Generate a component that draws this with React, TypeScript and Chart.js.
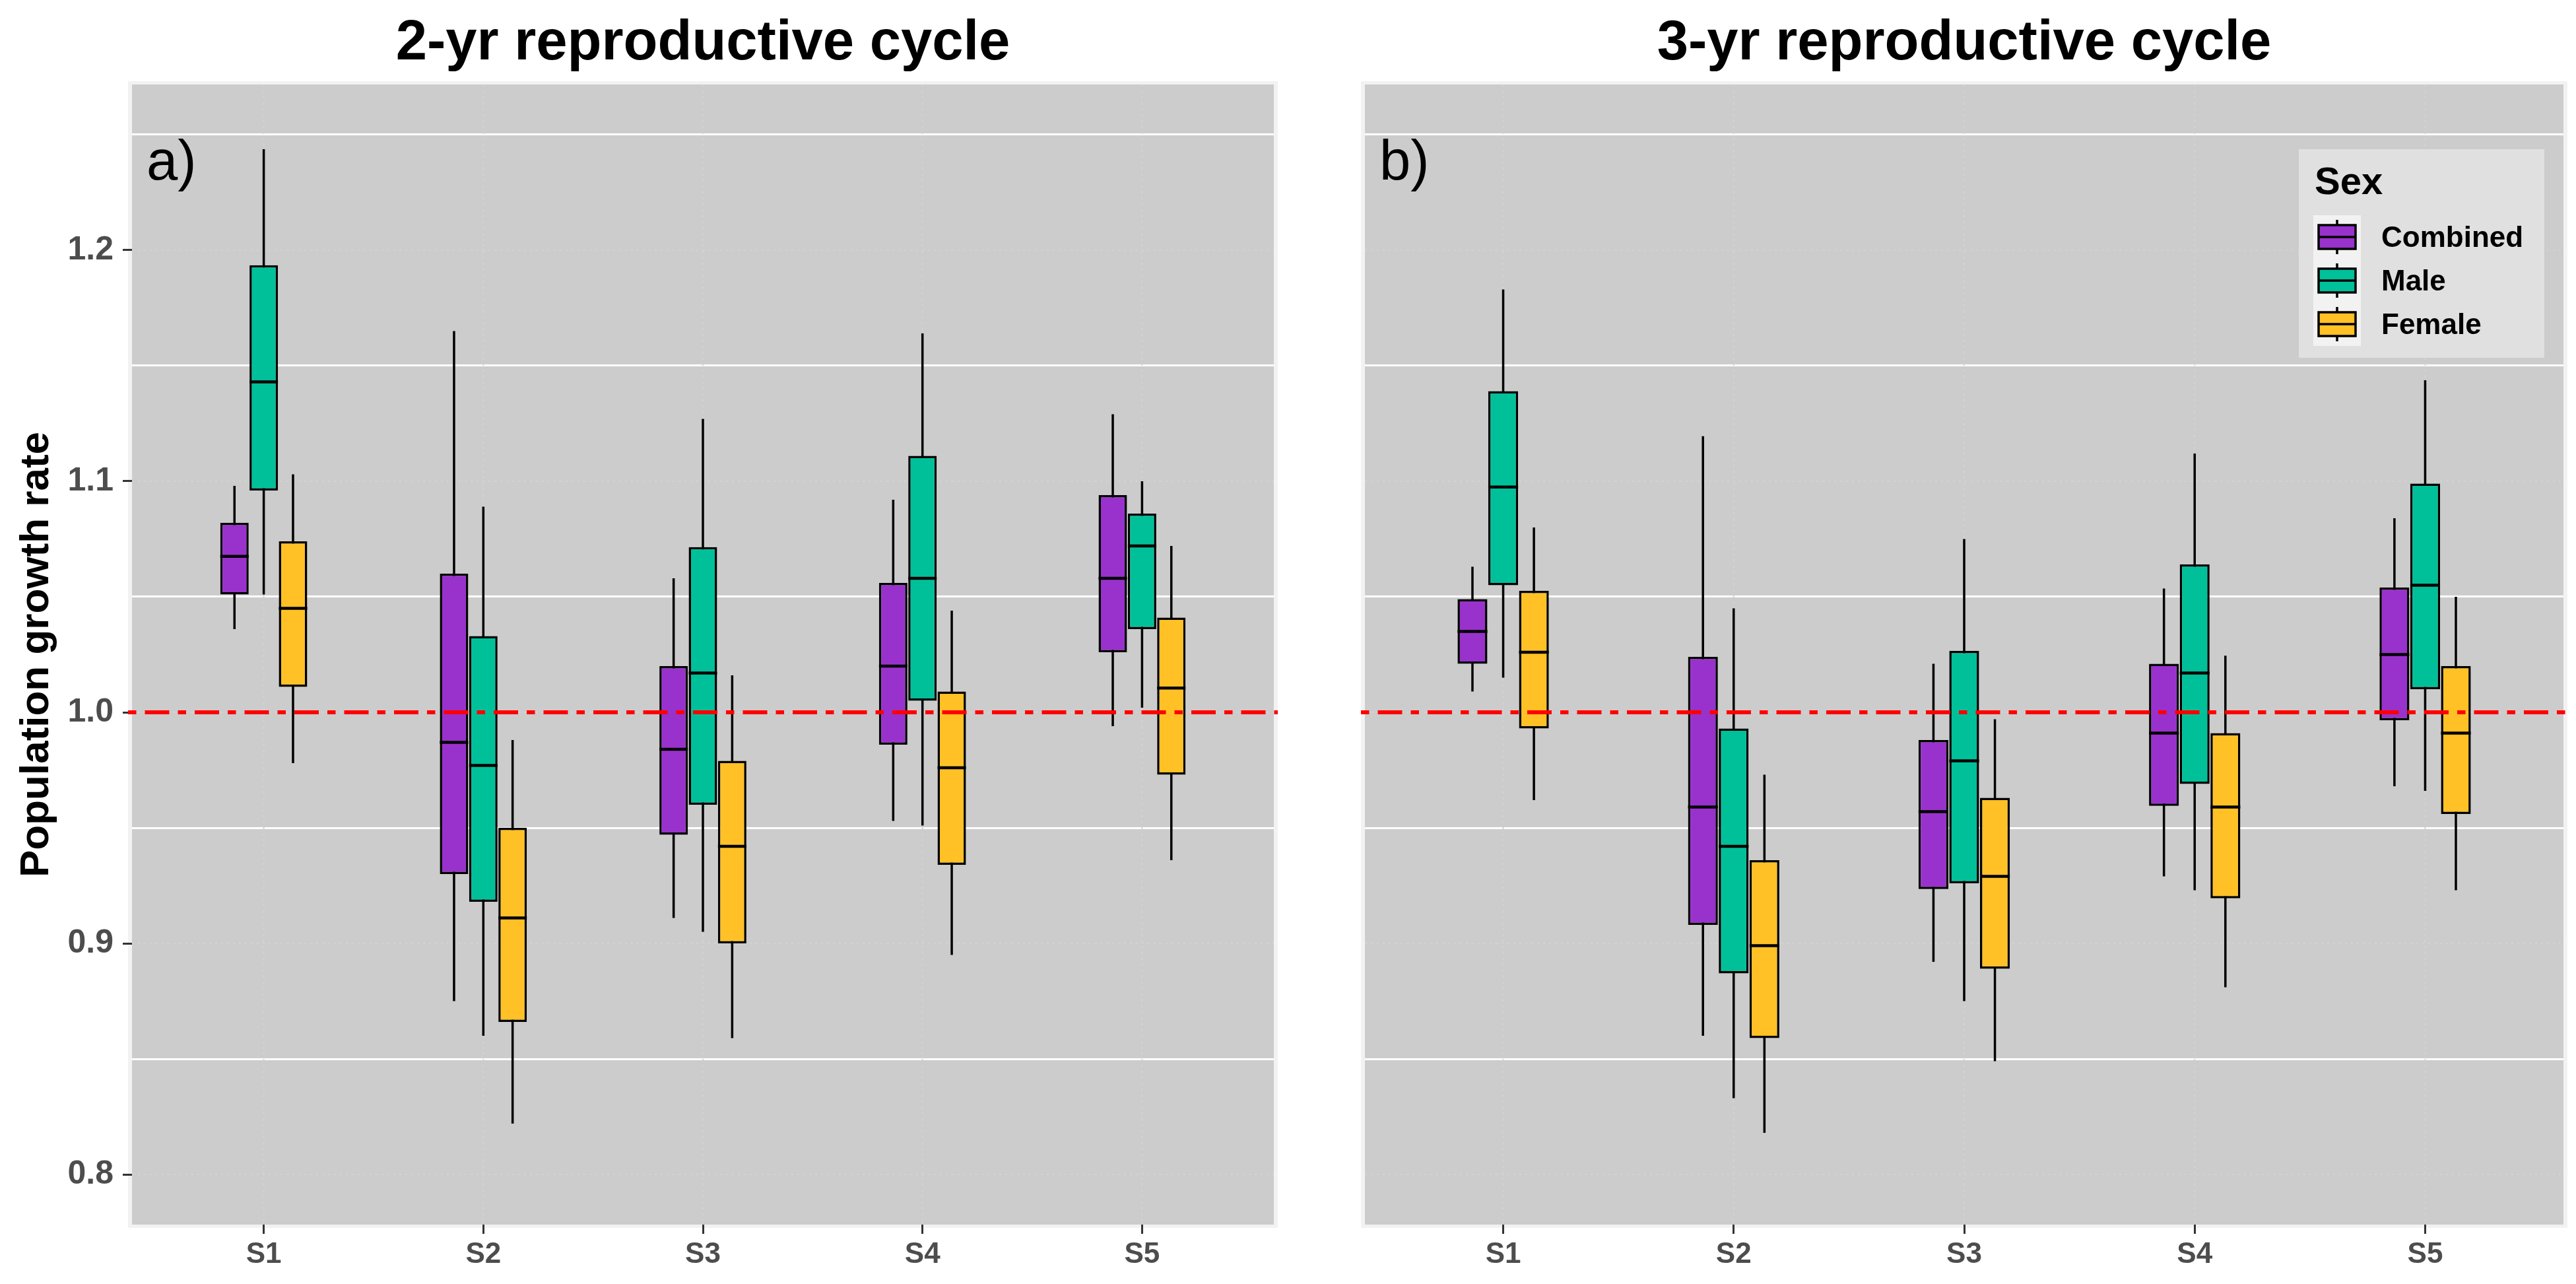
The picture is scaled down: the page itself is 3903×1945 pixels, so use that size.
import React, { useEffect, useRef } from 'react';
import { Chart, registerables } from 'chart.js';

Chart.register(...registerables);

// ---------------- data ----------------
const categories = ['S1', 'S2', 'S3', 'S4', 'S5'];
const sexes = ['Combined', 'Male', 'Female'];
const sexColors = ['#9932CC', '#00C09A', '#FFC125'];

const yTickValues = [0.8, 0.9, 1.0, 1.1, 1.2];
const yTickLabels = ['0.8', '0.9', '1.0', '1.1', '1.2'];
const yMinorGrid = [0.85, 0.95, 1.05, 1.15, 1.25];
const yMin = 0.7783;
const yMax = 1.2717;
const refLine = 1.0;

const panelTitles = ['2-yr reproductive cycle', '3-yr reproductive cycle'];
const panelLetters = ['a)', 'b)'];
const yAxisTitle = 'Population growth rate';
const legendTitle = 'Sex';

// 2-yr reproductive cycle
const twoYrCombinedLo = [1.036, 0.875, 0.911, 0.953, 0.994];
const twoYrCombinedQ1 = [1.051, 0.930, 0.947, 0.986, 1.026];
const twoYrCombinedMed = [1.0675, 0.987, 0.984, 1.020, 1.058];
const twoYrCombinedQ3 = [1.082, 1.060, 1.020, 1.056, 1.094];
const twoYrCombinedHi = [1.098, 1.165, 1.058, 1.092, 1.129];

const twoYrMaleLo = [1.051, 0.860, 0.905, 0.951, 1.002];
const twoYrMaleQ1 = [1.096, 0.918, 0.960, 1.005, 1.036];
const twoYrMaleMed = [1.143, 0.977, 1.017, 1.058, 1.072];
const twoYrMaleQ3 = [1.1935, 1.033, 1.0715, 1.111, 1.086];
const twoYrMaleHi = [1.2437, 1.089, 1.127, 1.164, 1.100];

const twoYrFemaleLo = [0.978, 0.822, 0.859, 0.895, 0.936];
const twoYrFemaleQ1 = [1.011, 0.866, 0.900, 0.934, 0.973];
const twoYrFemaleMed = [1.045, 0.911, 0.942, 0.976, 1.0105];
const twoYrFemaleQ3 = [1.074, 0.950, 0.979, 1.009, 1.041];
const twoYrFemaleHi = [1.103, 0.988, 1.016, 1.044, 1.072];

// 3-yr reproductive cycle
const threeYrCombinedLo = [1.009, 0.860, 0.892, 0.929, 0.968];
const threeYrCombinedQ1 = [1.021, 0.908, 0.9235, 0.9595, 0.9966];
const threeYrCombinedMed = [1.035, 0.959, 0.957, 0.991, 1.025];
const threeYrCombinedQ3 = [1.049, 1.024, 0.988, 1.021, 1.054];
const threeYrCombinedHi = [1.063, 1.1195, 1.021, 1.0536, 1.084];

const threeYrMaleLo = [1.015, 0.833, 0.875, 0.923, 0.966];
const threeYrMaleQ1 = [1.055, 0.887, 0.926, 0.969, 1.010];
const threeYrMaleMed = [1.0975, 0.942, 0.979, 1.017, 1.055];
const threeYrMaleQ3 = [1.139, 0.993, 1.0266, 1.064, 1.099];
const threeYrMaleHi = [1.183, 1.045, 1.075, 1.112, 1.1437];

const threeYrFemaleLo = [0.962, 0.818, 0.849, 0.881, 0.923];
const threeYrFemaleQ1 = [0.993, 0.859, 0.889, 0.9195, 0.956];
const threeYrFemaleMed = [1.026, 0.899, 0.929, 0.959, 0.991];
const threeYrFemaleQ3 = [1.0526, 0.936, 0.963, 0.991, 1.020];
const threeYrFemaleHi = [1.080, 0.973, 0.997, 1.0245, 1.050];

const panelSeries = [
  [
    { lo: twoYrCombinedLo, q1: twoYrCombinedQ1, med: twoYrCombinedMed, q3: twoYrCombinedQ3, hi: twoYrCombinedHi },
    { lo: twoYrMaleLo, q1: twoYrMaleQ1, med: twoYrMaleMed, q3: twoYrMaleQ3, hi: twoYrMaleHi },
    { lo: twoYrFemaleLo, q1: twoYrFemaleQ1, med: twoYrFemaleMed, q3: twoYrFemaleQ3, hi: twoYrFemaleHi },
  ],
  [
    { lo: threeYrCombinedLo, q1: threeYrCombinedQ1, med: threeYrCombinedMed, q3: threeYrCombinedQ3, hi: threeYrCombinedHi },
    { lo: threeYrMaleLo, q1: threeYrMaleQ1, med: threeYrMaleMed, q3: threeYrMaleQ3, hi: threeYrMaleHi },
    { lo: threeYrFemaleLo, q1: threeYrFemaleQ1, med: threeYrFemaleMed, q3: threeYrFemaleQ3, hi: threeYrFemaleHi },
  ],
];

// ---------------- styling ----------------
const FONT = '"Liberation Sans", Arial, Helvetica, sans-serif';
const near = (a: number, b: number) => Math.abs(a - b) < 1e-6;
const isMinor = (v: number) => yMinorGrid.some((m) => near(m, v));

function line(ctx: CanvasRenderingContext2D, x1: number, y1: number, x2: number, y2: number) {
  ctx.beginPath();
  ctx.moveTo(x1, y1);
  ctx.lineTo(x2, y2);
  ctx.stroke();
}

const boxplotDecor = {
  id: 'boxplotDecor',
  beforeDraw(chart: any) {
    const { ctx, chartArea: a } = chart;
    ctx.save();
    ctx.fillStyle = '#F2F2F2';
    ctx.fillRect(a.left - 6, a.top - 5, a.right - a.left + 12, a.bottom - a.top + 10);
    ctx.fillStyle = '#CCCCCC';
    ctx.fillRect(a.left, a.top, a.right - a.left, a.bottom - a.top);
    ctx.restore();
  },
  beforeDatasetsDraw(chart: any) {
    const { ctx, chartArea: a } = chart;
    const xs = chart.scales.x;
    const ys = chart.scales.y;
    ctx.save();
    // faint dotted major grid
    ctx.strokeStyle = '#D3D3D3';
    ctx.lineWidth = 2;
    ctx.setLineDash([3, 6]);
    yTickValues.forEach((v) => {
      const py = ys.getPixelForValue(v);
      line(ctx, a.left, py, a.right, py);
    });
    categories.forEach((_c, i) => {
      const px = xs.getPixelForValue(i + 1);
      line(ctx, px, a.top, px, a.bottom);
    });
    ctx.setLineDash([]);
    // whiskers
    ctx.strokeStyle = '#000000';
    ctx.lineWidth = 3.5;
    chart.data.datasets.forEach((ds: any, di: number) => {
      const meta = chart.getDatasetMeta(di);
      meta.data.forEach((el: any, j: number) => {
        line(ctx, el.x, ys.getPixelForValue(ds.whiskerLo[j]), el.x, ys.getPixelForValue(ds.whiskerHi[j]));
      });
    });
    ctx.restore();
  },
  afterDatasetsDraw(chart: any) {
    const { ctx, chartArea: a } = chart;
    const ys = chart.scales.y;
    ctx.save();
    // medians
    ctx.strokeStyle = '#000000';
    ctx.lineWidth = 4.5;
    chart.data.datasets.forEach((ds: any, di: number) => {
      const meta = chart.getDatasetMeta(di);
      meta.data.forEach((el: any, j: number) => {
        const py = ys.getPixelForValue(ds.median[j]);
        line(ctx, el.x - el.width / 2, py, el.x + el.width / 2, py);
      });
    });
    // reference line
    const ry = ys.getPixelForValue(refLine);
    ctx.strokeStyle = '#FF0000';
    ctx.lineWidth = 6;
    ctx.setLineDash([37, 13, 12.5, 13]);
    ctx.lineDashOffset = 50;
    line(ctx, a.left - 6, ry, a.right + 6, ry);
    ctx.restore();
  },
  afterDraw(chart: any, _args: any, opts: any) {
    const { ctx, chartArea: a } = chart;
    ctx.save();
    // panel title
    ctx.fillStyle = '#000000';
    ctx.font = `bold 85px ${FONT}`;
    ctx.textAlign = 'center';
    ctx.textBaseline = 'alphabetic';
    ctx.fillText(opts.title, (a.left + a.right) / 2, 90);
    // panel letter
    ctx.font = `85px ${FONT}`;
    ctx.textAlign = 'left';
    ctx.fillText(opts.letter, a.left + 22, a.top + 144);
    // legend
    if (opts.showLegend) {
      const lw = 372;
      const lh = 316;
      const lx = a.right - 29 - lw;
      const ly = a.top + 98;
      ctx.fillStyle = '#E0E0E0';
      ctx.fillRect(lx, ly, lw, lh);
      ctx.fillStyle = '#000000';
      ctx.font = `bold 58px ${FONT}`;
      ctx.fillText(legendTitle, lx + 24, ly + 68);
      const kx = lx + 22;
      const ky = ly + 100;
      const rowH = 66;
      ctx.fillStyle = '#F2F2F2';
      ctx.fillRect(kx, ky, 72, rowH * chart.data.datasets.length);
      chart.data.datasets.forEach((ds: any, k: number) => {
        const cy = ky + rowH / 2 + rowH * k;
        const cx = kx + 36;
        ctx.strokeStyle = '#000000';
        ctx.lineWidth = 3.5;
        line(ctx, cx, cy - 26, cx, cy + 26);
        ctx.fillStyle = ds.backgroundColor;
        ctx.fillRect(cx - 28, cy - 18, 56, 36);
        ctx.strokeRect(cx - 28, cy - 18, 56, 36);
        line(ctx, cx - 28, cy, cx + 28, cy);
        ctx.fillStyle = '#000000';
        ctx.font = `bold 44px ${FONT}`;
        ctx.textBaseline = 'middle';
        ctx.fillText(ds.label, lx + 125, cy + 3);
        ctx.textBaseline = 'alphabetic';
      });
    }
    ctx.restore();
  },
};

function buildChart(canvas: HTMLCanvasElement, panel: number, withYAxis: boolean, padLeft: number, padRight: number) {
  const datasets = sexes.map((sex, k) => {
    const s = panelSeries[panel][k];
    return {
      label: sex,
      data: categories.map((_c, i) => ({ x: i + 1, y: [s.q1[i], s.q3[i]] })),
      backgroundColor: sexColors[k],
      borderColor: '#000000',
      borderWidth: 3.5,
      borderSkipped: false,
      categoryPercentage: 0.4,
      barPercentage: 0.97,
      whiskerLo: s.lo,
      whiskerHi: s.hi,
      median: s.med,
    };
  });

  return new Chart(canvas, {
    type: 'bar',
    data: { datasets } as any,
    plugins: [boxplotDecor as any],
    options: {
      animation: false,
      responsive: false,
      devicePixelRatio: 1,
      events: [],
      layout: { padding: { left: padLeft, right: padRight, top: 128, bottom: 0 } },
      plugins: {
        legend: { display: false },
        tooltip: { enabled: false },
        title: { display: false },
        boxplotDecor: { title: panelTitles[panel], letter: panelLetters[panel], showLegend: !withYAxis },
      } as any,
      scales: {
        x: {
          type: 'linear',
          min: 0.4,
          max: 5.6,
          bounds: 'data',
          offset: false,
          afterBuildTicks: (s: any) => {
            s.ticks = categories.map((_c, i) => ({ value: i + 1 }));
          },
          afterFit: (s: any) => {
            s.height = 90;
          },
          grid: {
            display: true,
            offset: false,
            drawOnChartArea: false,
            drawTicks: true,
            tickLength: 14,
            tickWidth: 3,
            tickColor: '#333333',
            color: 'rgba(0,0,0,0)',
          },
          border: { display: false },
          ticks: {
            autoSkip: false,
            maxRotation: 0,
            padding: 5,
            color: '#4D4D4D',
            font: { family: FONT, size: 44, weight: 'bold' },
            callback: (v: any) => categories[Math.round(Number(v)) - 1] ?? '',
          },
        } as any,
        y: {
          type: 'linear',
          min: yMin,
          max: yMax,
          bounds: 'data',
          beginAtZero: false,
          afterBuildTicks: (s: any) => {
            s.ticks = [...yTickValues, ...yMinorGrid].sort((p, q) => p - q).map((v) => ({ value: v }));
          },
          afterFit: (s: any) => {
            s.width = withYAxis ? 200 : 0;
          },
          grid: {
            display: true,
            color: (c: any) => (c.tick && isMinor(c.tick.value) ? '#FFFFFF' : 'rgba(0,0,0,0)'),
            lineWidth: 3,
            drawTicks: withYAxis,
            tickLength: 14,
            tickWidth: 3,
            tickColor: (c: any) => (c.tick && isMinor(c.tick.value) ? 'rgba(0,0,0,0)' : '#333333'),
          },
          border: { display: false },
          ticks: {
            display: withYAxis,
            autoSkip: false,
            padding: 14,
            color: '#4D4D4D',
            font: { family: FONT, size: 50, weight: 'bold' },
            callback: (v: any) => {
              const i = yTickValues.findIndex((t) => near(t, Number(v)));
              return i >= 0 ? yTickLabels[i] : '';
            },
          },
          title: {
            display: withYAxis,
            text: yAxisTitle,
            color: '#000000',
            font: { family: FONT, size: 62, weight: 'bold' },
            padding: { top: 19, bottom: 0 },
          },
        } as any,
      },
    },
  });
}

export default function App() {
  const leftRef = useRef<HTMLCanvasElement>(null);
  const rightRef = useRef<HTMLCanvasElement>(null);

  useEffect(() => {
    document.body.style.margin = '0';
    document.body.style.overflow = 'hidden';
    const c1 = buildChart(leftRef.current!, 0, true, 0, 60);
    const c2 = buildChart(rightRef.current!, 1, false, 78, 19);
    return () => {
      c1.destroy();
      c2.destroy();
    };
  }, []);

  return (
    <div style={{ position: 'absolute', left: 0, top: 0, width: 3903, height: 1945, background: '#FFFFFF', overflow: 'hidden' }}>
      <canvas ref={leftRef} width={1990} height={1945} style={{ position: 'absolute', left: 0, top: 0 }} />
      <canvas ref={rightRef} width={1913} height={1945} style={{ position: 'absolute', left: 1990, top: 0 }} />
    </div>
  );
}
